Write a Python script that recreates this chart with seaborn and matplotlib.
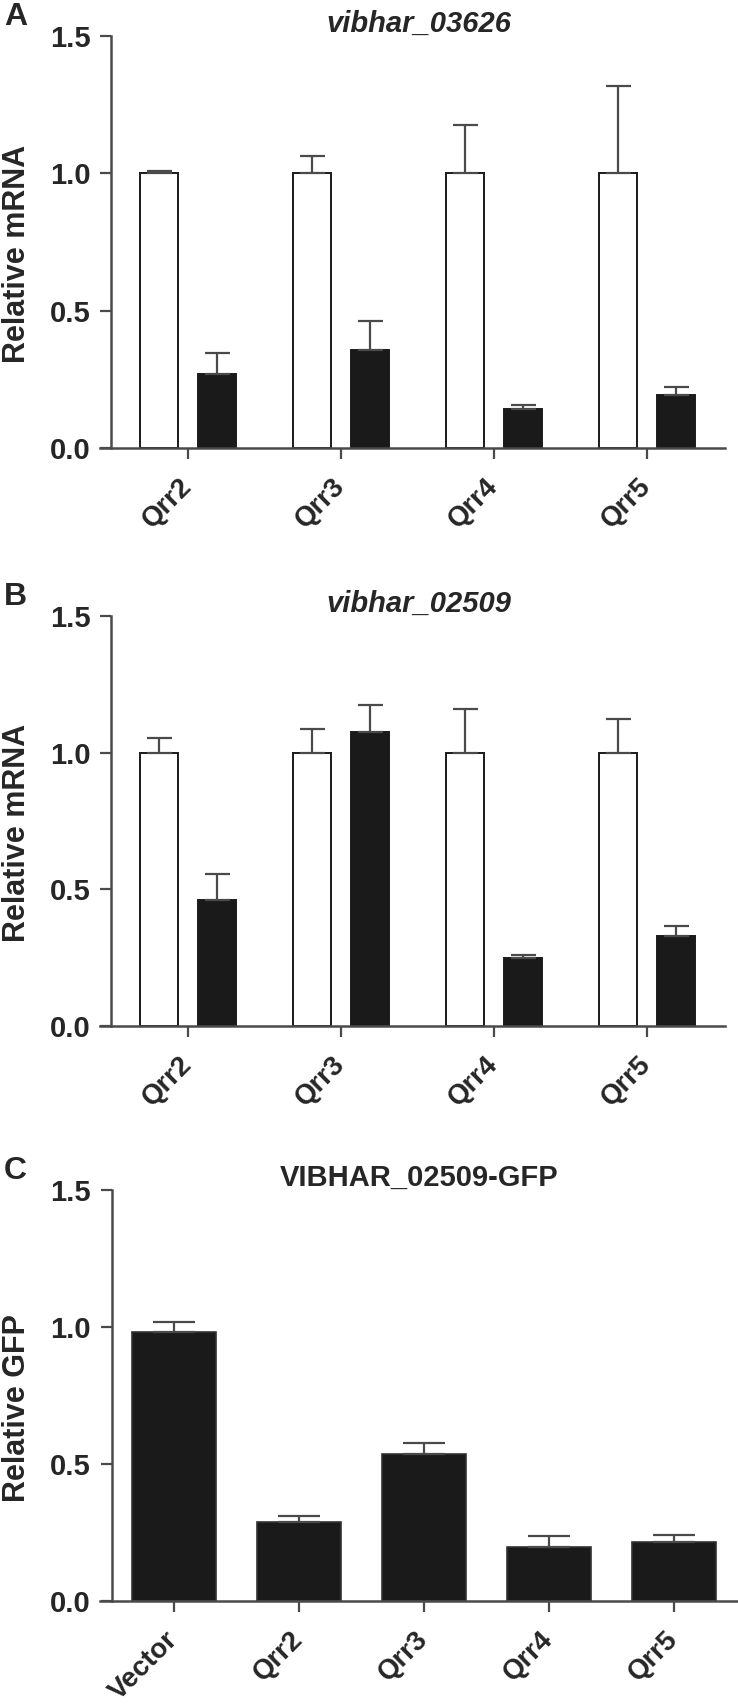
import matplotlib
matplotlib.use("Agg")
import matplotlib.pyplot as plt
import seaborn as sns
import numpy as np
import pandas as pd

sns.set_theme(style="white")
plt.rcParams['font.family'] = ['Liberation Sans', 'DejaVu Sans']
plt.rcParams['font.weight'] = 'bold'

# ---- data ----
qrr = ["Qrr2", "Qrr3", "Qrr4", "Qrr5"]
conditions = ["control", "Qrr"]

a_control = [1.0, 1.0, 1.0, 1.0]
a_control_err = [0.008, 0.064, 0.177, 0.317]
a_qrr = [0.271, 0.355, 0.142, 0.194]
a_qrr_err = [0.076, 0.106, 0.015, 0.029]

b_control = [1.0, 1.0, 1.0, 1.0]
b_control_err = [0.055, 0.088, 0.158, 0.124]
b_qrr = [0.461, 1.075, 0.247, 0.329]
b_qrr_err = [0.094, 0.098, 0.011, 0.036]

c_labels = ["Vector", "Qrr2", "Qrr3", "Qrr4", "Qrr5"]
c_values = [0.982, 0.288, 0.536, 0.196, 0.214]
c_err = [0.038, 0.022, 0.042, 0.043, 0.027]

yticks = [0.0, 0.5, 1.0, 1.5]
ytick_labels = ["0.0", "0.5", "1.0", "1.5"]

W, H = 738, 1705
fig = plt.figure(figsize=(W / 100, H / 100), dpi=100)

LINE = "#4a4a4a"
BLACK = "#1a1a1a"


def px_axes(left, top, right, bottom):
    return fig.add_axes([left / W, 1 - bottom / H, (right - left) / W, (bottom - top) / H])


def style(ax, xlim, ylabel, title, italic, letter, letter_top, title_x, width_px):
    ax.set_xlim(*xlim)
    ax.set_ylim(0, 1.5)
    ax.spines['left'].set_position(('data', -0.5))
    for s in ['top', 'right']:
        ax.spines[s].set_visible(False)
    for s in ['left', 'bottom']:
        ax.spines[s].set_color(LINE)
        ax.spines[s].set_linewidth(1.8)
    ax.set_yticks(yticks)
    ax.set_yticklabels(ytick_labels, fontsize=21, fontweight='bold')
    ax.tick_params(axis='both', direction='out', length=8, width=1.6, color=LINE,
                   left=True, bottom=True)
    ax.tick_params(axis='y', pad=7)
    for lab in ax.get_xticklabels():
        lab.set_rotation(45)
        lab.set_ha('right')
        lab.set_va('center')
        lab.set_rotation_mode('anchor')
        lab.set_fontsize(20)
        lab.set_fontweight('bold')
    ax.tick_params(axis='x', pad=17)
    ax.set_xlabel("")
    ax.set_ylabel(ylabel, fontsize=22, fontweight='bold')
    ax.yaxis.set_label_coords((32 - 100) / width_px, 0.47)
    ax.set_title(title, fontsize=21, fontweight='bold',
                 style='italic' if italic else 'normal', x=title_x, pad=3)
    fig.text(4 / W, 1 - letter_top / H, letter, fontsize=23, fontweight='bold',
             va='top', ha='left')
    ax.grid(False)


def paired(ax, ctrl, ctrl_err, trt, trt_err):
    df = pd.DataFrame({
        "sRNA": qrr * 2,
        "cond": [conditions[0]] * 4 + [conditions[1]] * 4,
        "val": list(ctrl) + list(trt),
    })
    sns.barplot(data=df, x="sRNA", y="val", hue="cond", order=qrr,
                hue_order=conditions, palette=["white", BLACK], width=0.76,
                gap=0.34, errorbar=None, edgecolor=BLACK, linewidth=1.4,
                legend=False, ax=ax)
    errs = list(ctrl_err) + list(trt_err)
    bars = [p for p in ax.patches][:8]
    for p, e in zip(bars, errs):
        xc = p.get_x() + p.get_width() / 2
        top = p.get_height()
        ax.errorbar([xc], [top], yerr=[[0], [e]], fmt='none', ecolor=LINE,
                    elinewidth=1.6, capsize=9, capthick=1.6, zorder=1)


axA = px_axes(100, 36, 725, 448)
paired(axA, a_control, a_control_err, a_qrr, a_qrr_err)
style(axA, (-0.575, 3.51), "Relative mRNA", "vibhar_03626", True, "A", 2, 0.51, 625)

axB = px_axes(100, 616, 725, 1026)
paired(axB, b_control, b_control_err, b_qrr, b_qrr_err)
style(axB, (-0.575, 3.51), "Relative mRNA", "vibhar_02509", True, "B", 582, 0.51, 625)

axC = px_axes(100, 1190, 738, 1601)
dfc = pd.DataFrame({"sample": c_labels, "val": c_values})
sns.barplot(data=dfc, x="sample", y="val", order=c_labels, color=BLACK,
            width=0.67, errorbar=None, edgecolor="#333333", linewidth=1.2,
            saturation=1, ax=axC)
for p, e in zip(axC.patches, c_err):
    xc = p.get_x() + p.get_width() / 2
    axC.errorbar([xc], [p.get_height()], yerr=[[0], [e]], fmt='none', ecolor=LINE,
                 elinewidth=1.6, capsize=15, capthick=1.6, zorder=1)
style(axC, (-0.592, 4.512), "Relative GFP", "VIBHAR_02509-GFP", False, "C", 1156, 0.5, 638)

fig.savefig("out.png", dpi=100)
